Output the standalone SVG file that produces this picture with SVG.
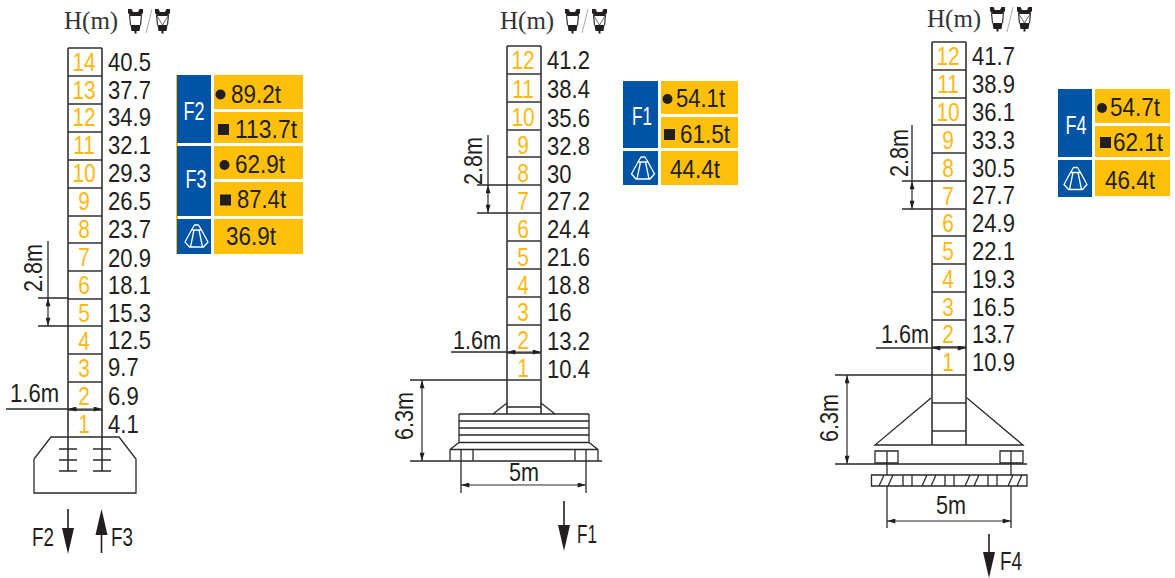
<svg xmlns="http://www.w3.org/2000/svg" width="1175" height="578" viewBox="0 0 1175 578">
<style>
text{font-family:"Liberation Sans",Arial,sans-serif;font-size:25.500px;fill:#231f20}
.h{font-family:"Liberation Serif","Times New Roman",serif;fill:#333;font-size:25px}
.y{fill:#fdb913;text-anchor:middle;font-size:25.500px}
.w{fill:#fff;text-anchor:middle}
.l{fill:none;stroke:#2b2a2a;stroke-width:1.3}
.t{fill:none;stroke:#333;stroke-width:1.6}
.d{fill:none;stroke:#2b2a2a;stroke-width:1.2;marker-start:url(#ah);marker-end:url(#ah)}
.b{fill:#0054a6}
.c{fill:#ffc00b}
.k{fill:#231f20}
</style>
<defs>
<marker id="ah" viewBox="0 0 10 6" refX="10" refY="3" markerWidth="10" markerHeight="5" markerUnits="userSpaceOnUse" orient="auto-start-reverse"><path d="M0 0L10 3L0 6z" fill="#231f20"/></marker>
<g id="lift1">
<path class="k" d="M0 0H3.500L5 3H10L11.500 0H15V4L12.500 7H2.500L0 4zM2.500 16H12.500L11.500 22H8.500V24.500H6.500V22H3.500z"/>
<path d="M1.500 6L2.500 16M13.500 6L12.500 16" fill="none" stroke="#333" stroke-width="1.200"/>
</g>
<g id="lift2">
<use href="#lift1"/>
<path d="M2 7L7.500 16L13 7" fill="none" stroke="#444" stroke-width=".8"/>
</g>
<g id="dome" fill="none" stroke="#fff" stroke-width="1.300" stroke-linejoin="round">
<path d="M-5-6L-2-11H2L5-6zM-5-6L-11.500 6L-7 11H7L11.500 6L5-6M-2.500-6L-6 11M2.500-6L6 11"/>
</g>
<path id="head" class="k" d="M-6 0H6L0 26z"/>
</defs>

<g id="header-1"><text class="h" x="64" y="29">H(m)</text><use href="#lift1" x="128" y="9"/><path d="M146 33L152 9" stroke="#aaa" fill="none"/><use href="#lift2" x="155" y="9"/></g>
<g id="header-2"><text class="h" x="500" y="29">H(m)</text><use href="#lift1" x="565" y="9"/><path d="M582 33L588 9" stroke="#aaa" fill="none"/><use href="#lift2" x="592" y="9"/></g>
<g id="header-3"><text class="h" x="927" y="27">H(m)</text><use href="#lift1" x="990" y="7"/><path d="M1007 32L1013 7" stroke="#aaa" fill="none"/><use href="#lift2" x="1017" y="7"/></g>

<g id="tower-1">
<path class="t" d="M68 48H102M68 76H102M68 104H102M68 132H102M68 160H102M68 188H102M68 216H102M68 243H102M68 271H102M68 299H102M68 326H102M68 354H102M68 382H102M68 410H102M68 48V471M102 48V471"/>
<g transform="translate(84 0) scale(.82 1)">
<text class="y" y="71">14</text><text class="y" y="99">13</text><text class="y" y="126">12</text><text class="y" y="154">11</text><text class="y" y="182">10</text><text class="y" y="210">9</text><text class="y" y="238">8</text><text class="y" y="266">7</text><text class="y" y="294">6</text><text class="y" y="322">5</text><text class="y" y="350">4</text><text class="y" y="377">3</text><text class="y" y="405">2</text><text class="y" y="433">1</text>
</g>
<g transform="translate(108 0) scale(.865 1)">
<text y="71">40.5</text><text y="99">37.7</text><text y="126">34.9</text><text y="154">32.1</text><text y="182">29.3</text><text y="210">26.5</text><text y="238">23.7</text><text y="267">20.9</text><text y="294">18.1</text><text y="322">15.3</text><text y="349">12.5</text><text y="376">9.7</text><text y="405">6.9</text><text y="433">4.1</text>
</g>
<path class="l" d="M51 437H119L136 459V493H34V459L51 437zM59 449H77M59 460H77M59 471H77M93 449H111M93 460H111M93 471H111"/>
</g>

<g id="tower-2">
<path class="t" d="M507 46H541M507 74H541M507 102H541M507 130H541M507 157H541M507 185H541M507 213H541M507 241H541M507 269H541M507 297H541M507 325H541M507 353H541M507 380H541M507 46V414M541 46V414"/>
<g transform="translate(523 0) scale(.82 1)">
<text class="y" y="69">12</text><text class="y" y="98">11</text><text class="y" y="126">10</text><text class="y" y="154">9</text><text class="y" y="182">8</text><text class="y" y="210">7</text><text class="y" y="238">6</text><text class="y" y="266">5</text><text class="y" y="294">4</text><text class="y" y="321">3</text><text class="y" y="349">2</text><text class="y" y="377">1</text>
</g>
<g transform="translate(547 0) scale(.865 1)">
<text y="69">41.2</text><text y="98">38.4</text><text y="127">35.6</text><text y="155">32.8</text><text y="183">30</text><text y="210">27.2</text><text y="238">24.4</text><text y="266">21.6</text><text y="294">18.8</text><text y="321">16</text><text y="350">13.2</text><text y="378">10.4</text>
</g>
<path class="l" d="M507 407H541M507 403L493 414M541 403L555 414M459 414H589M459 414V442.500M589 414V442.500M459 421H589M459 428H589M459 435H589M459 442.500H589M459 442.500L450 449.500M589 442.500L598 449.500M450 449.500H598M450 449.500V461M473 449.500V461M575 449.500V461M598 449.500V461"/>
</g>

<g id="tower-3">
<path class="t" d="M932 42H966M932 70H966M932 98H966M932 125H966M932 153H966M932 181H966M932 209H966M932 236H966M932 264H966M932 292H966M932 320H966M932 347H966M932 375H966M932 403H966M932 431H966M932 42V445M966 42V445"/>
<g transform="translate(948 0) scale(.82 1)">
<text class="y" y="65">12</text><text class="y" y="93">11</text><text class="y" y="121">10</text><text class="y" y="149">9</text><text class="y" y="177">8</text><text class="y" y="205">7</text><text class="y" y="232">6</text><text class="y" y="260">5</text><text class="y" y="288">4</text><text class="y" y="316">3</text><text class="y" y="343">2</text><text class="y" y="371">1</text>
</g>
<g transform="translate(972 0) scale(.865 1)">
<text y="65">41.7</text><text y="93">38.9</text><text y="121">36.1</text><text y="149">33.3</text><text y="177">30.5</text><text y="204">27.7</text><text y="232">24.9</text><text y="260">22.1</text><text y="288">19.3</text><text y="316">16.5</text><text y="343">13.7</text><text y="371">10.9</text>
</g>
<path class="l" d="M931 398L875 445H1023L967 398M875 451H898V463H875zM1000 451H1023V463H1000zM871.500 475H1027V486H871.500zM903 475V486M912 475V486M945 475V486M954 475V486M988 475V486M997 475V486M879 486L884 475M888 486L893 475M922 486L927 475M931 486L936 475M965 486L970 475M974 486L979 475M1008 486L1013 475M1017 486L1022 475"/>
</g>

<g id="table-1">
<rect class="c" x="176" y="75" width="2" height="179"/>
<rect class="b" x="177" y="75" width="34" height="68"/><rect class="b" x="177" y="146" width="34" height="70"/><rect class="b" x="177" y="219" width="34" height="35"/>
<rect class="c" x="214" y="75" width="89" height="34"/><rect class="c" x="214" y="112" width="89" height="31"/><rect class="c" x="214" y="146" width="89" height="33"/><rect class="c" x="214" y="182" width="89" height="34"/><rect class="c" x="214" y="219" width="89" height="35"/>
<text class="w" x="194" y="120" textLength="21" lengthAdjust="spacingAndGlyphs">F2</text><text class="w" x="196" y="188" textLength="21" lengthAdjust="spacingAndGlyphs">F3</text>
<use href="#dome" x="196.500" y="236"/>
<circle class="k" cx="220.500" cy="94.500" r="5"/><rect class="k" x="218" y="124" width="11" height="11"/><circle class="k" cx="224.500" cy="165" r="5"/><rect class="k" x="220" y="194.500" width="11" height="11"/>
<text x="231" y="103" textLength="50" lengthAdjust="spacingAndGlyphs">89.2t</text><text x="235" y="138" textLength="62" lengthAdjust="spacingAndGlyphs">113.7t</text><text x="235" y="173" textLength="50" lengthAdjust="spacingAndGlyphs">62.9t</text><text x="237" y="208" textLength="49" lengthAdjust="spacingAndGlyphs">87.4t</text><text x="226" y="245" textLength="50" lengthAdjust="spacingAndGlyphs">36.9t</text>
</g>

<g id="table-2">
<rect class="b" x="623" y="81" width="35" height="67"/><rect class="b" x="623" y="151" width="35" height="34"/>
<rect class="c" x="661" y="81" width="77" height="33"/><rect class="c" x="661" y="117" width="77" height="31"/><rect class="c" x="661" y="151" width="77" height="34"/>
<text class="w" x="642" y="125" textLength="20" lengthAdjust="spacingAndGlyphs">F1</text>
<use href="#dome" x="643" y="168"/>
<circle class="k" cx="667.500" cy="99" r="5"/><rect class="k" x="664" y="129" width="11" height="11"/>
<text x="676" y="107" textLength="49" lengthAdjust="spacingAndGlyphs">54.1t</text><text x="680" y="143" textLength="50" lengthAdjust="spacingAndGlyphs">61.5t</text><text x="670" y="178" textLength="50" lengthAdjust="spacingAndGlyphs">44.4t</text>
</g>

<g id="table-3">
<rect class="b" x="1058" y="89" width="34" height="68"/><rect class="b" x="1058" y="160" width="34" height="37"/>
<rect class="c" x="1095" y="89" width="75" height="34"/><rect class="c" x="1095" y="126" width="75" height="31"/><rect class="c" x="1095" y="160" width="75" height="36"/>
<text class="w" x="1076" y="134" textLength="21" lengthAdjust="spacingAndGlyphs">F4</text>
<use href="#dome" x="1075.500" y="178.500"/>
<circle class="k" cx="1102" cy="108" r="5"/><rect class="k" x="1100" y="137" width="11" height="11"/>
<text x="1110" y="116" textLength="50" lengthAdjust="spacingAndGlyphs">54.7t</text><text x="1113" y="151" textLength="50" lengthAdjust="spacingAndGlyphs">62.1t</text><text x="1105" y="189" textLength="50" lengthAdjust="spacingAndGlyphs">46.4t</text>
</g>

<g id="connectors">
<path class="l" d="M6 409H68M38 298H68M38 326H68M48 241V298"/>
<path class="d" d="M68 409H102"/><path class="d" d="M48 298V326"/>
<path class="l" d="M451 352H507M410 380H507M477 185H507M477 213H507M488 135V185M410 461H602M461 450V493M586 450V493"/>
<path class="d" d="M507 352H541"/><path class="d" d="M488 185V213"/><path class="d" d="M422 380V461"/><path class="d" d="M461 485H586"/>
<path class="l" d="M876 348H932M835 375H932M902 181H932M902 209H932M912 125V181M835 464H1027M887 451V475M887 486V528M1011 451V475M1011 486V528"/>
<path class="d" d="M932 348H966"/><path class="d" d="M912 181V209"/><path class="d" d="M847 375V464"/><path class="d" d="M887 521H1011"/>
<path d="M68 509V530M101.500 533V553M564 501V527M989 534V555" fill="none" stroke="#231f20" stroke-width="1.600"/>
<use href="#head" x="68" y="528"/>
<use href="#head" transform="translate(101.500 535) rotate(180)"/>
<use href="#head" x="564" y="525"/>
<use href="#head" x="989" y="552"/>
</g>

<g id="dim-labels">
<text x="10" y="402" textLength="49" lengthAdjust="spacingAndGlyphs">1.6m</text>
<text x="453" y="349" textLength="48" lengthAdjust="spacingAndGlyphs">1.6m</text>
<text x="881" y="343" textLength="48" lengthAdjust="spacingAndGlyphs">1.6m</text>
<text transform="translate(42 292) rotate(-90)" textLength="48" lengthAdjust="spacingAndGlyphs">2.8m</text>
<text transform="translate(482 185) rotate(-90)" textLength="48" lengthAdjust="spacingAndGlyphs">2.8m</text>
<text transform="translate(908 177) rotate(-90)" textLength="48" lengthAdjust="spacingAndGlyphs">2.8m</text>
<text transform="translate(413 440) rotate(-90)" textLength="48" lengthAdjust="spacingAndGlyphs">6.3m</text>
<text transform="translate(838 442) rotate(-90)" textLength="48" lengthAdjust="spacingAndGlyphs">6.3m</text>
<text x="509" y="481" textLength="30" lengthAdjust="spacingAndGlyphs">5m</text>
<text x="936" y="514" textLength="30" lengthAdjust="spacingAndGlyphs">5m</text>
<text x="32" y="546" textLength="22" lengthAdjust="spacingAndGlyphs">F2</text>
<text x="111" y="546" textLength="22" lengthAdjust="spacingAndGlyphs">F3</text>
<text x="577" y="543" textLength="20" lengthAdjust="spacingAndGlyphs">F1</text>
<text x="1000" y="570" textLength="22" lengthAdjust="spacingAndGlyphs">F4</text>
</g>
</svg>
